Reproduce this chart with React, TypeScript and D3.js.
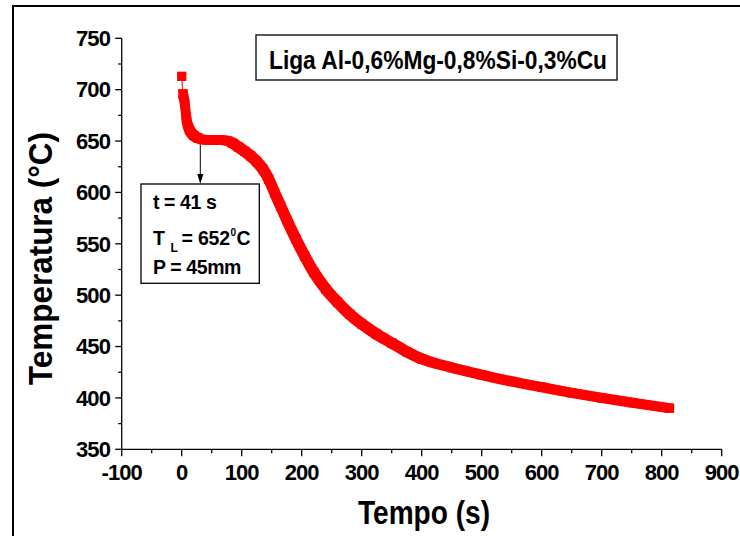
import React from "react";
import * as d3 from "d3";

const TIME = [0, 2, 5, 8, 13, 20, 27, 35, 45, 55, 65, 75, 85, 95, 105, 115, 125, 135, 145, 155, 165, 175, 190, 205, 220, 240, 260, 280, 300, 325, 350, 375, 400, 450, 500, 550, 600, 650, 700, 750, 813];
const TEMP = [713, 696, 687, 671, 661, 655.5, 653, 651.5, 651, 651, 651, 650.5, 648, 644, 640, 635.5, 630, 623, 613, 599.5, 586.5, 573.5, 555, 538, 522.5, 506, 493, 481.5, 472, 462, 453.5, 445, 438, 429.5, 422.5, 416, 410.5, 405, 400, 395.5, 390];
const X_TICKS = [-100, 0, 100, 200, 300, 400, 500, 600, 700, 800, 900];
const X_MINOR = [-50, 50, 150, 250, 350, 450, 550, 650, 750, 850];
const Y_TICKS = [350, 400, 450, 500, 550, 600, 650, 700, 750];
const Y_MINOR = [375, 425, 475, 525, 575, 625, 675, 725];
const LEGEND = "Liga Al-0,6%Mg-0,8%Si-0,3%Cu";
const X_TITLE = "Tempo (s)";
const Y_TITLE = "Temperatura (°C)";
const ARROW_T = 31;
const ARROW_V = 651;

const FONT = "'Liberation Sans', Arial, Helvetica, sans-serif";

export default function App() {
  const W = 740, H = 536;
  const x = d3.scaleLinear().domain([-100, 900]).range([121.7, 721.7]);
  const y = d3.scaleLinear().domain([350, 750]).range([449.3, 38.3]);
  const data = TIME.map((t, i) => ({ t, v: TEMP[i] }));
  const line = d3.line<{ t: number; v: number }>().x(d => x(d.t)).y(d => y(d.v)).curve(d3.curveMonotoneX);
  const thick = line(data.slice(1)) || "";
  const thin = line(data) || "";
  const ms = 9.3;
  const o = 3.2;
  const offs = [[-o, -o], [o, -o], [-o, o], [o, o]];
  const x0 = 121.7, yb = 449.3;
  const ax = x(ARROW_T);
  const ay0 = y(ARROW_V) + 4.5;
  const boxTop = 184;

  return (
    <svg width={W} height={H} style={{ position: "absolute", left: 0, top: 0, background: "#fff" }} fontFamily={FONT}>
      <rect x={0} y={0} width={W} height={H} fill="#fff" />
      <rect x={13} y={6} width={800} height={600} fill="none" stroke="#000" strokeWidth={2} />

      {/* axes */}
      <line x1={x0} y1={y(750)} x2={x0} y2={yb} stroke="#000" strokeWidth={1.3} />
      <line x1={x0} y1={yb} x2={x(900)} y2={yb} stroke="#000" strokeWidth={1.3} />
      {Y_TICKS.map(v => (
        <g key={"yt" + v}>
          <line x1={x0 - 6.5} x2={x0} y1={y(v)} y2={y(v)} stroke="#000" strokeWidth={1.3} />
          <text x={110} y={y(v) + 7.8} textAnchor="end" fontSize={22} fontWeight="bold" letterSpacing={-0.9}>{v}</text>
        </g>
      ))}
      {Y_MINOR.map(v => (
        <line key={"ym" + v} x1={x0 - 3.5} x2={x0} y1={y(v)} y2={y(v)} stroke="#000" strokeWidth={1.3} />
      ))}
      {X_TICKS.map(t => (
        <g key={"xt" + t}>
          <line x1={x(t)} x2={x(t)} y1={yb} y2={yb + 7} stroke="#000" strokeWidth={1.3} />
          <text x={x(t)} y={480} textAnchor="middle" fontSize={22} fontWeight="bold" letterSpacing={-0.9}>{t}</text>
        </g>
      ))}
      {X_MINOR.map(t => (
        <line key={"xm" + t} x1={x(t)} x2={x(t)} y1={yb} y2={yb + 4} stroke="#000" strokeWidth={1.3} />
      ))}

      {/* titles */}
      <text x={358} y={524} fontSize={33} fontWeight="bold" textLength={132} lengthAdjust="spacingAndGlyphs">{X_TITLE}</text>
      <g transform={`translate(52, ${385}) rotate(-90)`}>
        <text x={0} y={0} fontSize={34} fontWeight="bold" textLength={253} lengthAdjust="spacingAndGlyphs">{Y_TITLE}</text>
      </g>

      {/* legend */}
      <rect x={256} y={35} width={361} height={45} fill="#fff" stroke="#222" strokeWidth={1.5} />
      <text x={269} y={69.3} fontSize={26} fontWeight="bold" textLength={338} lengthAdjust="spacingAndGlyphs">{LEGEND}</text>

      {/* series */}
      <path d={thin} fill="none" stroke="#ff0000" strokeWidth={1} />
      <path d={thick} fill="none" stroke="#ff0000" strokeWidth={ms} strokeLinejoin="round" strokeLinecap="butt" />
      {offs.map(([dx, dy], i) => (
        <path key={"p" + i} d={thick} fill="none" stroke="#ff0000" strokeWidth={ms - 2 * o} strokeLinejoin="round" strokeLinecap="round" transform={`translate(${dx},${dy})`} />
      ))}
      {data.map((d, i) => (
        <rect key={"m" + i} x={x(d.t) - ms / 2} y={y(d.v) - ms / 2} width={ms} height={ms} fill="#ff0000" />
      ))}

      {/* annotation */}
      <line x1={ax} y1={ay0} x2={ax} y2={boxTop - 8} stroke="#000" strokeWidth={1} />
      <path d={`M${ax - 3},${boxTop - 10} L${ax + 3},${boxTop - 10} L${ax},${boxTop} Z`} fill="#000" />
      <rect x={141} y={boxTop} width={118.3} height={99.3} fill="#fff" stroke="#000" strokeWidth={1.3} />
      <text x={153} y={208.5} fontSize={19.5} fontWeight="bold" letterSpacing={-0.4}>t = 41 s</text>
      <text x={153} y={245} fontSize={19.5} fontWeight="bold">T</text>
      <text x={170.5} y={252} fontSize={12} fontWeight="bold">L</text>
      <text x={181.5} y={245} fontSize={19.5} fontWeight="bold" letterSpacing={-0.2}>= 652</text>
      <text x={230.5} y={236} fontSize={10} fontWeight="bold">0</text>
      <text x={236.5} y={245} fontSize={19.5} fontWeight="bold">C</text>
      <text x={153} y={273.5} fontSize={19.5} fontWeight="bold" letterSpacing={-0.4}>P = 45mm</text>
    </svg>
  );
}
